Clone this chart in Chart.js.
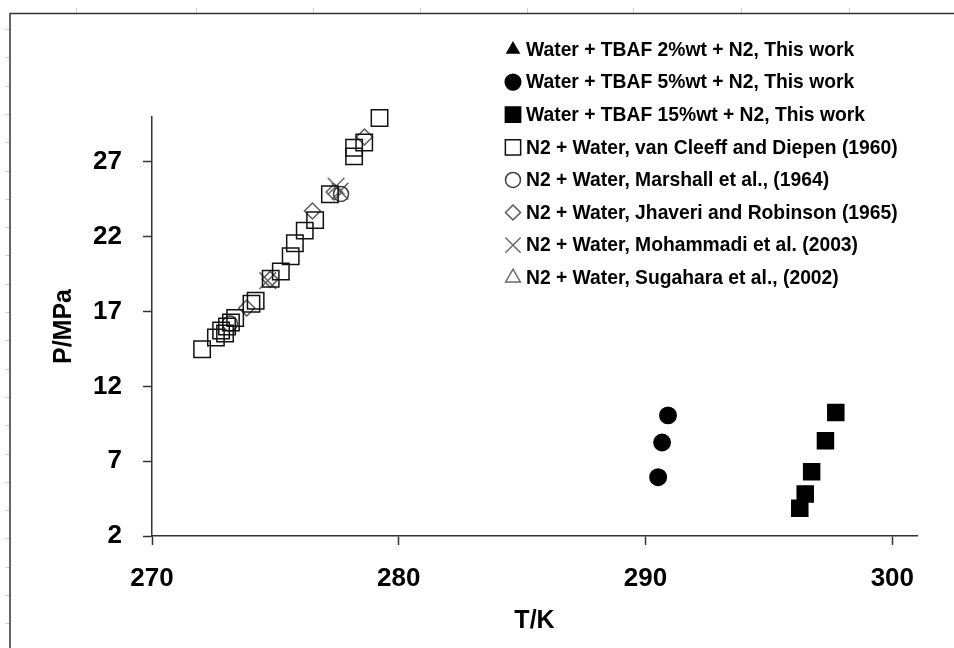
<!DOCTYPE html>
<html><head><meta charset="utf-8">
<script src="https://cdn.jsdelivr.net/npm/chart.js@4/dist/chart.umd.min.js"></script>
<style>html,body{margin:0;padding:0;background:#fff}canvas{display:block}</style>
</head><body>
<canvas id="c" width="954" height="648"></canvas>
<script>
// ---- data ----
const seriesLabels = [
  "Water + TBAF 2%wt + N2, This work",
  "Water + TBAF 5%wt + N2, This work",
  "Water + TBAF 15%wt + N2, This work",
  "N2 + Water, van Cleeff and Diepen (1960)",
  "N2 + Water, Marshall et al., (1964)",
  "N2 + Water, Jhaveri and Robinson (1965)",
  "N2 + Water, Mohammadi et al. (2003)",
  "N2 + Water, Sugahara et al., (2002)"
];
const tbaf2T = [];
const tbaf2P = [];
const tbaf5T = [290.51, 290.67, 290.91];
const tbaf5P = [5.93, 8.25, 10.06];
const tbaf15T = [296.25, 296.47, 296.73, 297.29, 297.71];
const tbaf15P = [3.86, 4.81, 6.29, 8.36, 10.26];
const cleeffT = [272.03, 272.59, 272.80, 272.96, 273.04, 273.20, 273.37, 274.03, 274.20, 274.81, 275.22, 275.62, 275.79, 276.19, 276.61, 277.21, 278.19, 278.19, 278.60, 279.22];
const cleeffP = [14.48, 15.26, 15.73, 15.53, 16.00, 16.27, 16.57, 17.52, 17.72, 19.19, 19.68, 20.69, 21.56, 22.41, 23.11, 24.84, 27.94, 27.37, 28.30, 29.93];
const marshallT = [273.16, 277.66];
const marshallP = [16.20, 24.86];
const jhaveriT = [273.84, 274.79, 276.50, 277.38, 278.61];
const jhaveriP = [17.24, 19.15, 23.72, 24.99, 28.66];
const mohammadiT = [274.69, 277.46, 277.62];
const mohammadiP = [19.06, 25.38, 25.04];
const sugaharaT = [];
const sugaharaP = [];
const xTicks = [270, 280, 290, 300];
const yTicks = [2, 7, 12, 17, 22, 27];
const xTitle = "T/K";
const yTitle = "P/MPa";

const pts = (T, P) => T.map((t, i) => ({x: t, y: P[i]}));
const FONT = "'Liberation Sans', Arial, sans-serif";

const styles = [
  {pointStyle: 'triangle', bg: '#000', bc: '#000', r: 9, lr: 7},
  {pointStyle: 'circle', bg: '#000', bc: '#000', r: 8.2, lr: 7.8},
  {pointStyle: 'rect', bg: '#000', bc: '#000', r: 11.3, lr: 10.8},
  {pointStyle: 'rect', bg: 'rgba(0,0,0,0)', bc: '#111', r: 11.6, lr: 10.8},
  {pointStyle: 'circle', bg: 'rgba(0,0,0,0)', bc: '#404040', r: 7.5, lr: 7.5},
  {pointStyle: 'rectRot', bg: 'rgba(0,0,0,0)', bc: '#5a5a5a', r: 8, lr: 7.5},
  {pointStyle: 'crossRot', bg: 'rgba(0,0,0,0)', bc: '#6a6a6a', r: 11.8, lr: 10.8},
  {pointStyle: 'triangle', bg: 'rgba(0,0,0,0)', bc: '#6a6a6a', r: 9, lr: 8.5}
];
const seriesData = [
  pts(tbaf2T, tbaf2P), pts(tbaf5T, tbaf5P), pts(tbaf15T, tbaf15P),
  pts(cleeffT, cleeffP), pts(marshallT, marshallP), pts(jhaveriT, jhaveriP),
  pts(mohammadiT, mohammadiP), pts(sugaharaT, sugaharaP)
];

const datasets = seriesLabels.map((lab, i) => ({
  label: lab,
  data: seriesData[i],
  showLine: false,
  clip: false,
  pointStyle: styles[i].pointStyle,
  pointRadius: styles[i].r,
  pointHoverRadius: styles[i].r,
  pointBackgroundColor: styles[i].bg,
  pointBorderColor: styles[i].bc,
  pointBorderWidth: 1.5,
  legendRadius: styles[i].lr
}));

const framePlugin = {
  id: 'frame',
  beforeDraw(chart) {
    const ctx = chart.ctx;
    ctx.save();
    ctx.fillStyle = '#fff';
    ctx.fillRect(0, 0, chart.width, chart.height);
    // faint ruler ticks
    ctx.strokeStyle = '#d0d0d0';
    ctx.lineWidth = 1;
    [76, 196, 313, 420, 527, 633, 741, 849].forEach(x => {
      ctx.beginPath(); ctx.moveTo(x + 0.5, 8); ctx.lineTo(x + 0.5, 13); ctx.stroke();
    });
    for (let y = 29; y < 648; y += 28.3) {
      ctx.beginPath(); ctx.moveTo(5, Math.round(y) + 0.5); ctx.lineTo(10, Math.round(y) + 0.5); ctx.stroke();
    }
    // outer frame
    ctx.strokeStyle = '#333';
    ctx.lineWidth = 1.5;
    ctx.beginPath();
    ctx.moveTo(10, 648); ctx.lineTo(10, 13.5); ctx.lineTo(954, 13.5);
    ctx.stroke();
    ctx.restore();
  }
};

const legendPlugin = {
  id: 'customLegend',
  afterDraw(chart) {
    const ctx = chart.ctx;
    ctx.save();
    ctx.font = "bold 19.3px " + FONT;
    ctx.textBaseline = 'middle';
    ctx.textAlign = 'left';
    chart.data.datasets.forEach((ds, i) => {
      const y = 49.5 + i * 32.6;
      ctx.fillStyle = ds.pointBackgroundColor;
      ctx.strokeStyle = ds.pointBorderColor;
      ctx.lineWidth = 1.5;
      Chart.helpers.drawPoint(ctx, {pointStyle: ds.pointStyle, radius: ds.legendRadius, borderWidth: 1.5, rotation: 0}, 513, y);
      ctx.fillStyle = '#000';
      ctx.fillText(ds.label, 526, y + 1);
    });
    ctx.restore();
  }
};

new Chart(document.getElementById('c'), {
  type: 'scatter',
  data: {datasets},
  plugins: [framePlugin, legendPlugin],
  options: {
    responsive: false,
    animation: false,
    devicePixelRatio: 1,
    layout: {padding: {top: 117, right: 37, left: 0, bottom: 0}},
    plugins: {legend: {display: false}, tooltip: {enabled: false}},
    scales: {
      x: {
        type: 'linear', min: 270, max: 301,
        afterBuildTicks: s => { s.ticks = xTicks.map(v => ({value: v})); },
        afterFit: s => { s.height = 112; },
        grid: {drawOnChartArea: false, drawTicks: true, tickLength: 9, tickColor: '#333', tickWidth: 1.5},
        border: {display: true, color: '#333', width: 1.5},
        ticks: {color: '#000', font: {family: FONT, size: 26, weight: 'bold'}, padding: 18, maxRotation: 0},
        title: {display: true, text: xTitle, color: '#000', font: {family: FONT, size: 25, weight: 'bold'}, padding: {top: 0, bottom: 12}}
      },
      y: {
        type: 'linear', min: 2, max: 30,
        afterBuildTicks: s => { s.ticks = yTicks.map(v => ({value: v})); },
        afterFit: s => { s.width = 152; },
        grid: {drawOnChartArea: false, drawTicks: true, tickLength: 9, tickColor: '#333', tickWidth: 1.5},
        border: {display: true, color: '#333', width: 1.5},
        ticks: {color: '#000', font: {family: FONT, size: 26, weight: 'bold'}, padding: 21},
        title: {display: true, text: yTitle, color: '#000', font: {family: FONT, size: 25, weight: 'bold'}, padding: {top: 49, bottom: 0}}
      }
    }
  }
});
</script>
</body></html>
